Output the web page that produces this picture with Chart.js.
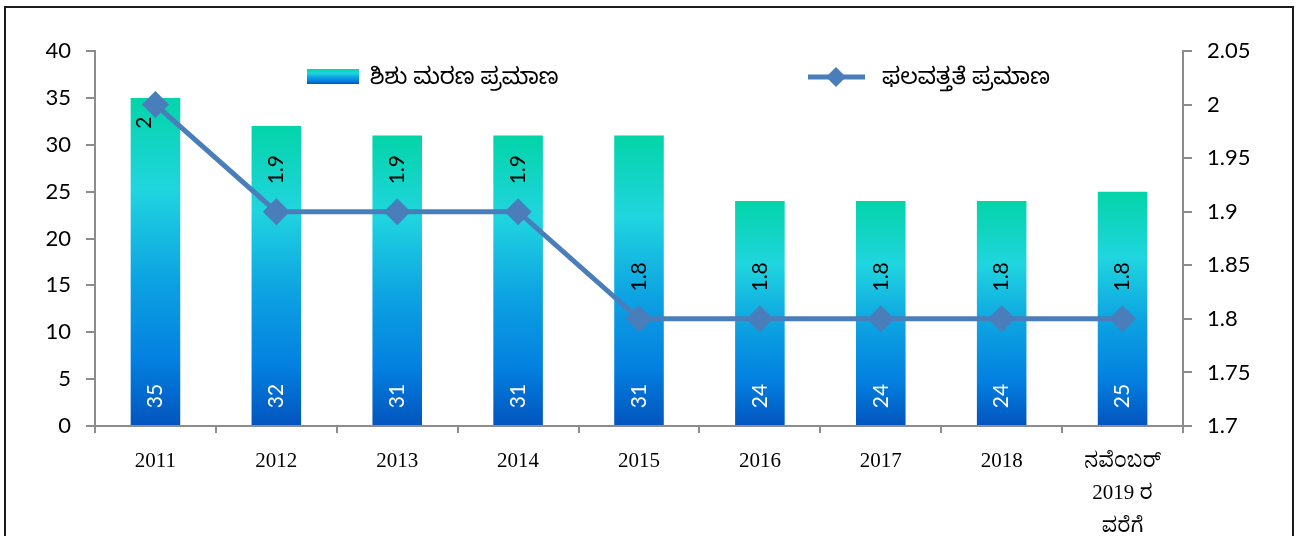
<!DOCTYPE html>
<html>
<head>
<meta charset="utf-8">
<title>ಶಿಶು ಮರಣ ಪ್ರಮಾಣ ಮತ್ತು ಫಲವತ್ತತೆ ಪ್ರಮಾಣ</title>
<script src="https://cdn.jsdelivr.net/npm/chart.js@4"></script>
<style>
    html, body { margin: 0; padding: 0; background: #fff; overflow: hidden; }
    #wrap { position: relative; width: 1304px; height: 536px; }
    #frame {
        position: absolute; left: 4px; top: 6px; width: 1286px; height: 600px;
        border: 2px solid #1c1c1c; pointer-events: none;
    }
    #chart { position: absolute; left: 0; top: 0; }
</style>
</head>
<body>
<div id="wrap">
    <canvas id="chart" width="1304" height="536"></canvas>
    <div id="frame"></div>
</div>
<script>
// Categories and series
const years = ['2011', '2012', '2013', '2014', '2015', '2016', '2017', '2018', ['ನವೆಂಬರ್', '2019 ರ', 'ವರೆಗೆ']];
const infantMortality = [35, 32, 31, 31, 31, 24, 24, 24, 25];
const fertilityRate = [2, 1.9, 1.9, 1.9, 1.8, 1.8, 1.8, 1.8, 1.8];
const leftTicks = [0, 5, 10, 15, 20, 25, 30, 35, 40];
const rightTicks = [1.7, 1.75, 1.8, 1.85, 1.9, 1.95, 2, 2.05];

const barLabel = 'ಶಿಶು ಮರಣ ಪ್ರಮಾಣ';
const lineLabel = 'ಫಲವತ್ತತೆ ಪ್ರಮಾಣ';

const lineColor = '#4a7ebb';
const axisColor = '#8c8c8c';
const sansFont = 'Lato, "Noto Sans Kannada", "Noto Sans", sans-serif';
const serifFont = '"Liberation Serif", "Noto Serif Kannada", "Noto Sans Kannada", serif';

// vertical teal -> cyan -> blue fill, stretched over each bar
function barGradient(ctx, top, bottom) {
    const g = ctx.createLinearGradient(0, top, 0, bottom);
    g.addColorStop(0, '#03d4a8');
    g.addColorStop(0.28, '#20d5df');
    g.addColorStop(0.55, '#0da3e2');
    g.addColorStop(0.8, '#0380e0');
    g.addColorStop(1, '#0254bd');
    return g;
}

// rotated value labels on bars and line points
const valueLabels = {
    id: 'valueLabels',
    afterDatasetsDraw(chart) {
        const ctx = chart.ctx;
        ctx.save();
        ctx.font = '21px ' + sansFont;
        ctx.textAlign = 'center';
        ctx.textBaseline = 'middle';

        const bars = chart.getDatasetMeta(0).data;
        bars.forEach((bar, i) => {
            ctx.save();
            ctx.translate(bar.x, bar.base - 29);
            ctx.rotate(-Math.PI / 2);
            ctx.fillStyle = '#ffffff';
            ctx.fillText(String(infantMortality[i]), 0, 0);
            ctx.restore();
        });

        const points = chart.getDatasetMeta(1).data;
        points.forEach((pt, i) => {
            let dx = 0, dy = -42;
            if (i === 0) { dx = -11; dy = 18; }
            ctx.save();
            ctx.translate(pt.x + dx, pt.y + dy);
            ctx.rotate(-Math.PI / 2);
            ctx.fillStyle = '#000000';
            ctx.fillText(String(fertilityRate[i]), 0, 0);
            ctx.restore();
        });
        ctx.restore();
    }
};

// legend sitting inside the plot area
const innerLegend = {
    id: 'innerLegend',
    afterDraw(chart) {
        const ctx = chart.ctx;
        const y = 77;
        ctx.save();
        ctx.fillStyle = barGradient(ctx, 69, 84);
        ctx.fillRect(307, 69, 52, 15);

        ctx.strokeStyle = lineColor;
        ctx.lineWidth = 5;
        ctx.beginPath();
        ctx.moveTo(808, y);
        ctx.lineTo(865, y);
        ctx.stroke();
        ctx.fillStyle = lineColor;
        ctx.beginPath();
        ctx.moveTo(836 - 10, y);
        ctx.lineTo(836, y - 10);
        ctx.lineTo(836 + 10, y);
        ctx.lineTo(836, y + 10);
        ctx.closePath();
        ctx.fill();

        ctx.fillStyle = '#000';
        ctx.font = '23px ' + sansFont;
        ctx.textBaseline = 'middle';
        ctx.textAlign = 'left';
        ctx.fillText(barLabel, 370, y);
        ctx.fillText(lineLabel, 882, y);
        ctx.restore();
    }
};

new Chart(document.getElementById('chart'), {
    type: 'bar',
    data: {
        labels: years,
        datasets: [{
            label: barLabel,
            data: infantMortality,
            yAxisID: 'y',
            order: 2,
            categoryPercentage: 1,
            barPercentage: 0.41,
            backgroundColor: (c) => {
                const ys = c.chart.scales.y;
                if (!ys || c.raw === undefined) return '#0da3e2';
                const top = ys.getPixelForValue(c.raw);
                const bottom = ys.getPixelForValue(0);
                if (!isFinite(top) || !isFinite(bottom) || top === bottom) return '#0da3e2';
                return barGradient(c.chart.ctx, top, bottom);
            },
        }, {
            type: 'line',
            label: lineLabel,
            data: fertilityRate,
            yAxisID: 'y1',
            order: 1,
            borderColor: lineColor,
            backgroundColor: lineColor,
            borderWidth: 5,
            pointStyle: 'rectRot',
            pointRadius: 10,
            pointHoverRadius: 10,
            tension: 0,
        }],
    },
    options: {
        responsive: false,
        animation: false,
        layout: { padding: { top: 51, bottom: 0, left: 0, right: 0 } },
        plugins: {
            legend: { display: false },
            tooltip: { enabled: false },
        },
        scales: {
            x: {
                grid: { display: true, offset: true, drawOnChartArea: false, drawTicks: true, tickLength: 7, color: axisColor, lineWidth: 2 },
                border: { color: axisColor, width: 2 },
                ticks: { color: '#000', font: { family: serifFont, size: 21, lineHeight: 1.55 }, padding: 12, maxRotation: 0, autoSkip: false },
                afterFit: (s) => { s.height = 110; },
            },
            y: {
                position: 'left',
                min: 0,
                max: 40,
                afterBuildTicks: (s) => { s.ticks = leftTicks.map(v => ({ value: v })); },
                grid: { drawOnChartArea: false, tickLength: 9, color: axisColor, lineWidth: 2 },
                border: { color: axisColor, width: 2 },
                ticks: { color: '#000', font: { family: sansFont, size: 22 }, padding: 15 },
                afterFit: (s) => { s.width = 95; },
            },
            y1: {
                position: 'right',
                min: 1.7,
                max: 2.05,
                afterBuildTicks: (s) => { s.ticks = rightTicks.map(v => ({ value: v })); },
                grid: { drawOnChartArea: false, tickLength: 9, color: axisColor, lineWidth: 2 },
                border: { color: axisColor, width: 2 },
                ticks: {
                    color: '#000', font: { family: sansFont, size: 22 }, padding: 15,
                    callback: (v) => String(Number(v.toFixed(2))),
                },
                afterFit: (s) => { s.width = 121; },
            },
        },
    },
    plugins: [valueLabels, innerLegend],
});
</script>
</body>
</html>
